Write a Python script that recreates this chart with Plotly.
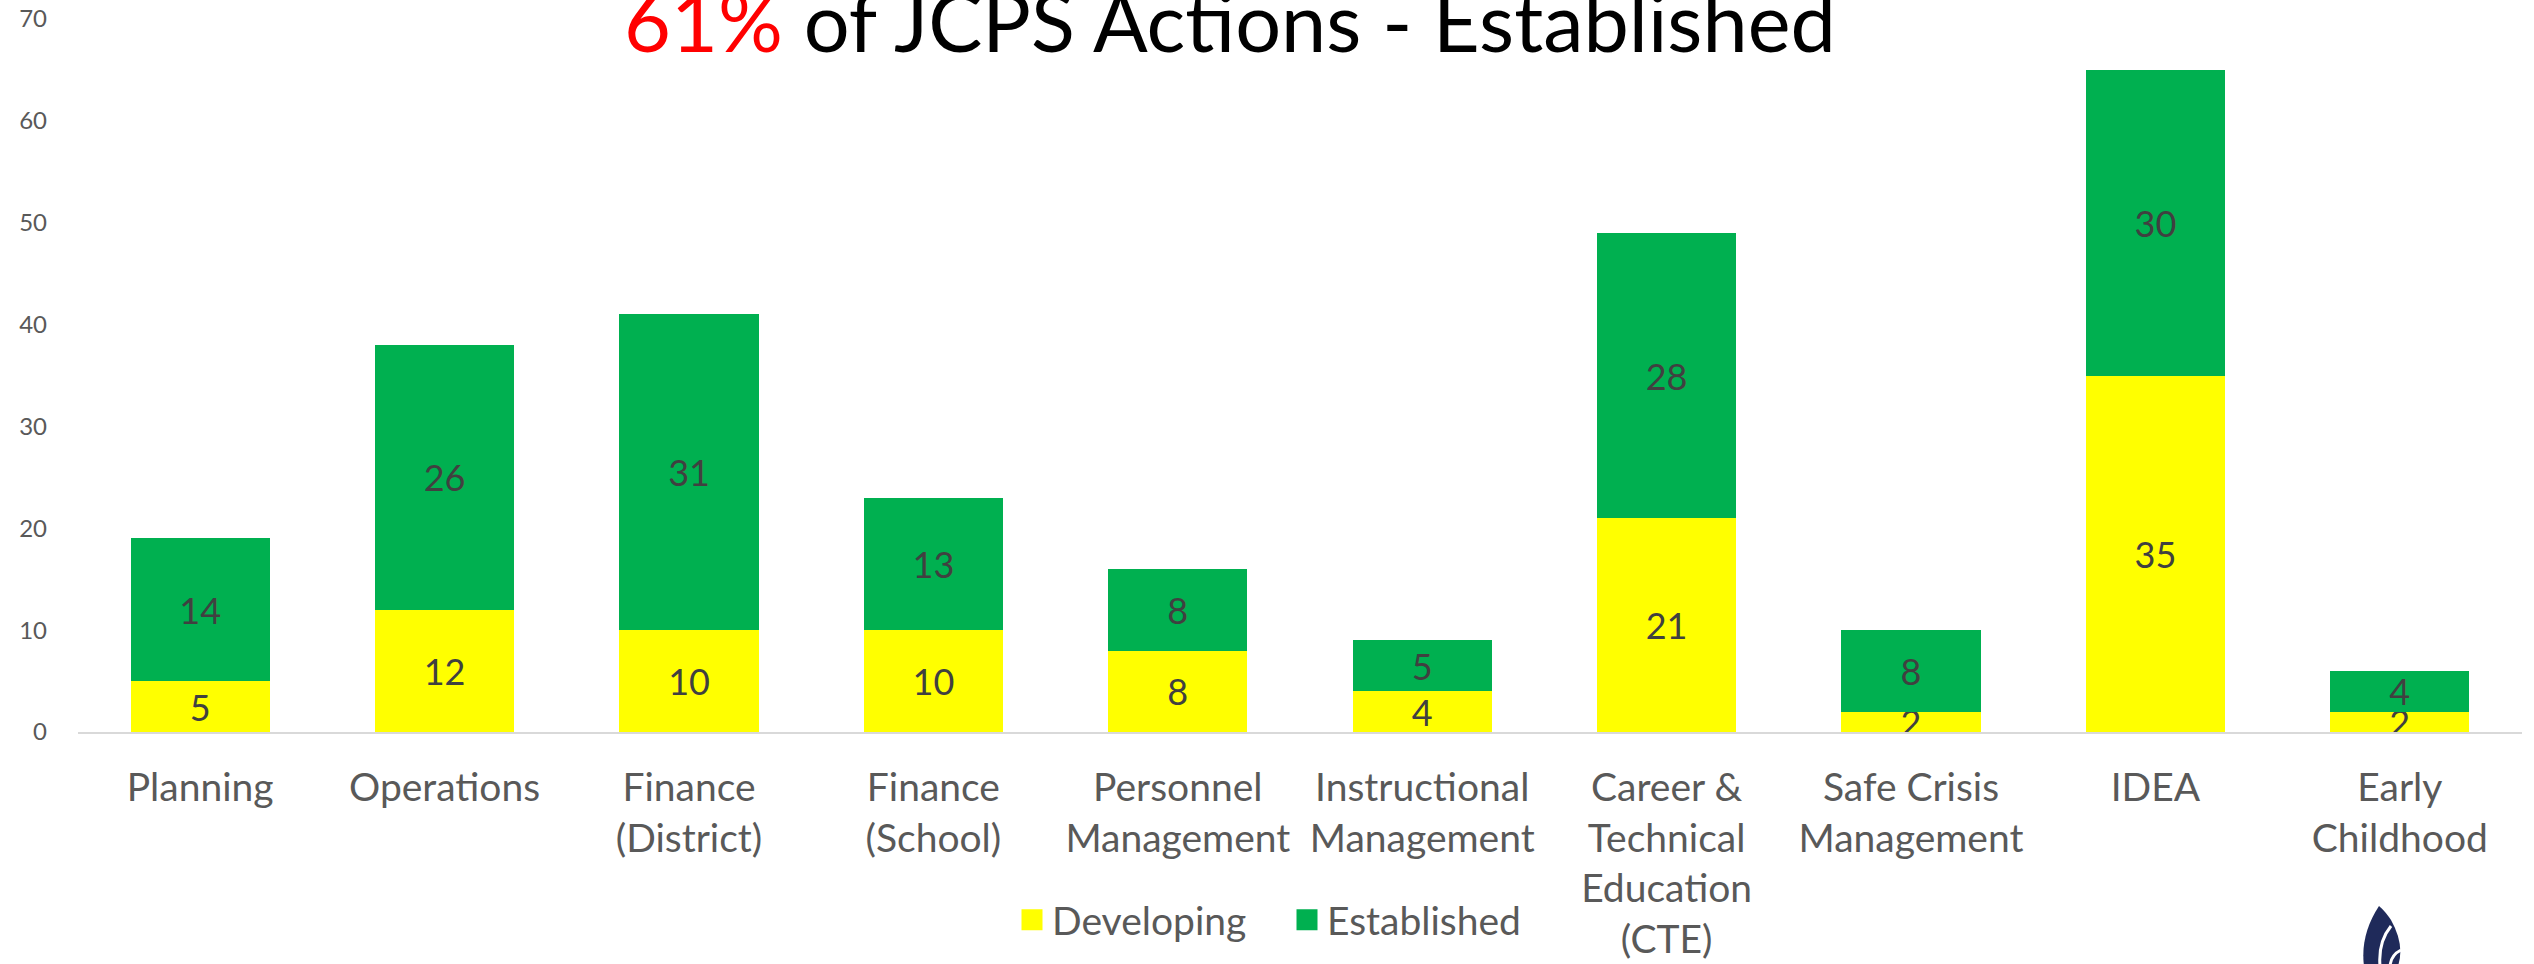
import plotly.graph_objects as go

categories = ["Planning", "Operations", "Finance<br>(District)", "Finance<br>(School)",
              "Personnel<br>Management", "Instructional<br>Management",
              "Career &<br>Technical<br>Education<br>(CTE)", "Safe Crisis<br>Management",
              "IDEA", "Early<br>Childhood"]
developing = [5, 12, 10, 10, 8, 4, 21, 2, 35, 2]
established = [14, 26, 31, 13, 8, 5, 28, 8, 30, 4]
y_ticks = [0, 10, 20, 30, 40, 50, 60, 70]

W, H = 2534, 964
ML, MR, MT, MB = 78, 12, 19, 232
PW, PH = W - ML - MR, H - MT - MB

def px2paper(x, y):
    return (x - ML) / PW, (H - MB - y) / PH

FONT = "Lato"
YELLOW = "#FFFF00"
GREEN = "#00B050"

fig = go.Figure()
fig.add_trace(go.Bar(x=categories, y=developing, name="Developing",
                     marker=dict(color=YELLOW, line=dict(width=0)),
                     text=developing, textposition="inside", insidetextanchor="middle",
                     textangle=0, textfont=dict(size=36, color="#404040", family=FONT),
                     showlegend=False, hoverinfo="skip"))
fig.add_trace(go.Bar(x=categories, y=established, name="Established",
                     marker=dict(color=GREEN, line=dict(width=0)),
                     text=established, textposition="inside", insidetextanchor="middle",
                     textangle=0, textfont=dict(size=36, color="#404040", family=FONT),
                     showlegend=False, hoverinfo="skip"))
# legend entries
fig.add_trace(go.Scatter(x=[None], y=[None], mode="markers", name="Developing",
                         marker=dict(symbol="square", size=16, color=YELLOW,
                                     line=dict(color=YELLOW, width=5))))
fig.add_trace(go.Scatter(x=[None], y=[None], mode="markers", name="Established",
                         marker=dict(symbol="square", size=16, color=GREEN,
                                     line=dict(color=GREEN, width=5))))

tx, ty = px2paper(1230, 20)
lx, ly = px2paper(1012, 920)

# logo (decorative leaf)
def path(points):
    s = ""
    for cmd, x, y in points:
        px, py = px2paper(x, y)
        s += f"{cmd}{px:.5f},{py:.5f} "
    return s

leaf = path([("M", 2379, 906), ("Q", 2360, 935), ("", 2364, 966), ("L", 2398, 966),
             ("Q", 2405, 945), ("", 2391, 920), ("Q", 2385, 911), ("", 2379, 906)]) + "Z"
stripe1 = path([("M", 2391, 926), ("Q", 2378, 942), ("", 2380, 966)])
stripe2 = path([("M", 2401, 950), ("Q", 2391, 955), ("", 2390, 966)])

fig.update_layout(
    width=W, height=H,
    margin=dict(l=ML, r=MR, t=MT, b=MB, autoexpand=False),
    paper_bgcolor="white", plot_bgcolor="white",
    barmode="stack", bargap=0.43,
    font=dict(family=FONT, color="#595959"),
    uniformtext=dict(minsize=36, mode="show"),
    showlegend=True,
    legend=dict(orientation="h", x=lx, y=ly, xanchor="left", yanchor="middle",
                traceorder="normal", entrywidth=230, entrywidthmode="pixels",
                font=dict(size=39, color="#595959", family=FONT),
                itemclick=False, bgcolor="rgba(0,0,0,0)"),
    xaxis=dict(type="category", showgrid=False, showline=True, linecolor="#D9D9D9",
               linewidth=2, ticks="", tickangle=0, automargin=False,
               tickfont=dict(size=39, color="#595959", family=FONT),
               ticklabelstandoff=20, fixedrange=True),
    yaxis=dict(range=[0, 70], tickvals=y_ticks, showgrid=False, zeroline=False,
               showline=False, ticks="", automargin=False,
               tickfont=dict(size=24, color="#595959", family=FONT),
               ticklabelstandoff=30, fixedrange=True),
    annotations=[dict(xref="paper", yref="paper", x=tx, y=ty, xanchor="center",
                      yanchor="middle", showarrow=False,
                      text="<span style='color:#FF0000'>61%</span> of JCPS Actions - Established",
                      font=dict(size=81, color="#000000", family=FONT))],
    shapes=[dict(type="path", xref="paper", yref="paper", path=leaf,
                 fillcolor="#1F2A5A", line=dict(width=0)),
            dict(type="path", xref="paper", yref="paper", path=stripe1,
                 line=dict(color="white", width=3)),
            dict(type="path", xref="paper", yref="paper", path=stripe2,
                 line=dict(color="white", width=3))],
)

fig.write_html("out.html")
